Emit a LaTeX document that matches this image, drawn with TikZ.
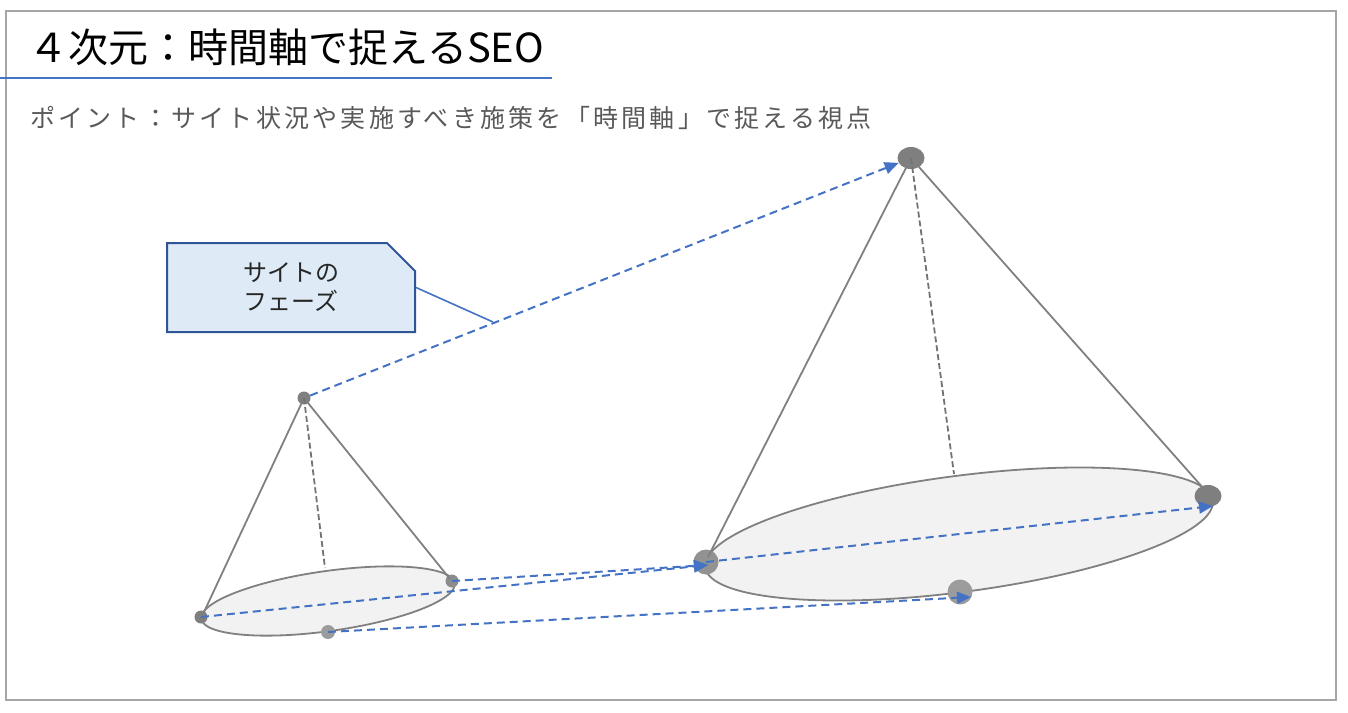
\documentclass[tikz,border=0pt]{standalone}
\usepackage{fontspec}
\newfontfamily\jp{Noto Sans CJK JP}
\newfontfamily\jpsp{Noto Sans CJK JP}[LetterSpace=13]
\usetikzlibrary{shapes.geometric,shapes.misc,arrows.meta}
\definecolor{frame}{HTML}{A6A6A6}
\definecolor{accent}{HTML}{4472C4}
\definecolor{dotgray}{HTML}{7F7F7F}
\definecolor{dotlight}{HTML}{9C9C9C}
\definecolor{basefill}{HTML}{F2F2F2}
\definecolor{conegray}{HTML}{808080}
\definecolor{callfill}{HTML}{DEEBF7}
\definecolor{callline}{HTML}{2F5597}
\definecolor{subgray}{HTML}{595959}
\begin{document}
\begin{tikzpicture}[x=1pt,y=-1pt,
  baseell/.style={ellipse,draw=conegray,fill=basefill,line width=1.8pt,inner sep=0pt},
  dot/.style={circle,fill=dotgray,inner sep=0pt},
  dotl/.style={circle,fill=dotlight,inner sep=0pt},
  coneline/.style={draw=conegray,line width=1.8pt},
  conedash/.style={draw=conegray!90!black,line width=1.8pt,dash pattern=on 6pt off 3pt},
  flow/.style={draw=accent,line width=2pt,dash pattern=on 8pt off 5pt,-{Triangle[length=14pt,width=12pt]}}]
\useasboundingbox (0,0) rectangle (1348,712);
% frame
\node[draw=frame,line width=1.6pt,minimum width=1330pt,minimum height=689pt,inner sep=0pt] (frm) at (671,355.5) {};
% title
\node[anchor=base west,inner sep=0pt,font=\jp\fontsize{40}{44}\selectfont] (title) at (28,62) {４次元：時間軸で捉えるSEO};
\coordinate (ul0) at (0,78);
\coordinate (ul1) at (552,78);
\draw[accent,line width=1.6pt] (ul0) -- (ul1);
\node[anchor=base west,inner sep=0pt,text=subgray,font=\jpsp\fontsize{25}{30}\selectfont] (sub) at (30,127) {ポイント：サイト状況や実施すべき施策を「時間軸」で捉える視点};
% bases
\node[baseell,minimum width=256pt,minimum height=60pt,rotate=8] (sbase) at (328,601) {};
\node[baseell,minimum width=512pt,minimum height=116pt,rotate=7.5] (lbase) at (959,534) {};
% tangent points
\coordinate (st1) at (204,612);
\coordinate (st2) at (450,579);
\coordinate (st3) at (325,568);
\coordinate (lt1) at (708,557);
\coordinate (lt2) at (1204,489);
\coordinate (lt3) at (954,474);
% dots
\node[dot,minimum size=13pt] (sa) at (304,398) {};
\node[dot,minimum size=13pt] (sl) at (201,617) {};
\node[dot,minimum size=13pt,fill=dotgray!90!white] (sr) at (452,581) {};
\node[dotl,minimum size=14pt] (sb) at (328,632) {};
\node[dot,ellipse,minimum width=27pt,minimum height=22pt] (la) at (911,158) {};
\node[dot,minimum size=25pt,fill=dotgray!85!white] (ll) at (706,562) {};
\node[dot,ellipse,minimum width=27pt,minimum height=22pt] (lr) at (1208,496) {};
\node[dotl,minimum size=25pt] (lb) at (960,592) {};
% cone lines
\draw[coneline] (sa.center) -- (st1);
\draw[coneline] (sa.center) -- (st2);
\draw[conedash] (sa.center) -- (st3);
\draw[coneline] (la.center) -- (lt1);
\draw[coneline] (la.center) -- (lt2);
\draw[conedash] (la.center) -- (lt3);
% flows
\coordinate (lrtip) at (1213,506);
\coordinate (lbtip) at (971,597);
\coordinate (lltip) at (708,565);
\draw[flow] (sa) -- (la);
\draw[flow] (sl.center) -- (lltip);
\draw[flow] (sr.center) -- (lltip);
\draw[flow] (ll.center) -- (lrtip);
\draw[flow] (sb.center) -- (lbtip);
% callout
\node[chamfered rectangle,chamfered rectangle corners=north east,chamfered rectangle xsep=14pt,chamfered rectangle ysep=14pt,
  draw=callline,fill=callfill,line width=2pt,minimum width=248pt,minimum height=89pt,inner sep=0pt,
  align=center,font=\jp\fontsize{24}{29}\selectfont,text=black!85] (callout) at (291,287.5) {サイトの\\フェーズ};
\coordinate (cpt) at (493,322);
\draw[accent,line width=1.6pt] (callout.east) -- (cpt);
\end{tikzpicture}
\end{document}
